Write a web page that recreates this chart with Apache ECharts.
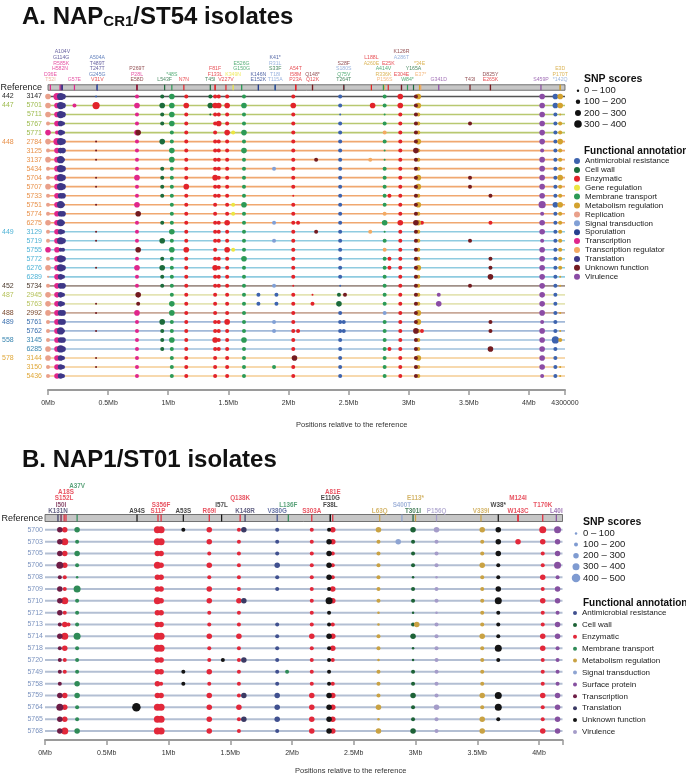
<!DOCTYPE html>
<html><head><meta charset="utf-8">
<script src="https://cdn.jsdelivr.net/npm/echarts@6/dist/echarts.min.js"></script>
<style>html,body{margin:0;padding:0;background:#fff}#c{width:686px;height:776px}</style>
</head><body><div id="c"></div>
<script>
const FONT = '"Liberation Sans", Arial, Helvetica, sans-serif';
const NARROW = '"Liberation Sans Narrow", "Liberation Sans", Arial, sans-serif';

/* ================= Panel A : NAP_CR1 / ST54 ================= */
const rowsA = ['3147','5701','5711','5767','5771','2784','3125','3137','5434','5704','5707','5733','5751','5774','6275',
  '3129','5719','5755','5772','6276','6289','5734','2945','5763','2992','5761','5762','3145','6285','3144','3150','5436'];
const stA = ['442','447','447','447','447','448','448','448','448','448','448','448','448','448','448',
  '449','449','449','449','449','449','452','487','487','488','489','489','558','558','578','578','578'];
const stNames = ['442','447','448','449','452','487','488','489','558','578'];
const stTextColors = ['#2a2a2a','#9dbb4e','#e8914a','#4fb3d6','#4d3b2e','#b6c25c','#7a4a30','#3a6fae','#3a86b0','#e0a83a'];
const stLineColors = ['#555555','#b8c870','#f0a870','#8fcbe0','#a09088','#e4e4b4','#c8a898','#a2b9d8','#9fc0dc','#f4cd93'];

const catsA = ['Antimicrobial resistance','Cell wall','Enzymatic','Gene regulation','Membrane transport','Metabolism regulation',
  'Replication','Signal transduction','Sporulation','Transcription','Transcription regulator','Translation','Unknown function','Virulence'];
const colorsA = ['#3d63ae','#1c6b3b','#e2232a','#ece640','#2c9a56','#d3a22e','#e9a08a','#81a0d6','#263f8f','#e0268c','#f3aa63','#3e3787','#731b20','#8b4ca5'];

// variant columns: position (Mb), annotation, SNP score bin per isolate (0 = absent, 1..4 = 0-100 .. 300-400)
const colPosA = [0.00,0.00,0.075,0.105,0.125,0.22,0.40,0.40,0.40,0.74,0.75,0.95,1.03,1.15,1.35,1.39,1.42,1.49,1.54,1.63,
  1.75,1.88,1.90,1.88,2.04,2.08,2.05,2.20,2.23,2.43,2.46,2.42,2.47,2.70,2.68,2.80,2.80,2.80,2.84,2.93,
  3.06,3.08,3.11,3.25,3.51,3.68,3.68,4.11,4.22,4.26];
const colCatA = ['Replication','Transcription','Transcription','Translation','Translation','Transcription','Enzymatic','Unknown function','Antimicrobial resistance','Transcription',
  'Unknown function','Cell wall','Membrane transport','Enzymatic','Cell wall','Enzymatic','Enzymatic','Enzymatic','Gene regulation','Membrane transport',
  'Antimicrobial resistance','Signal transduction','Antimicrobial resistance','Membrane transport','Enzymatic','Enzymatic','Unknown function','Enzymatic','Unknown function','Antimicrobial resistance',
  'Antimicrobial resistance','Cell wall','Unknown function','Enzymatic','Transcription regulator','Membrane transport','Transcription regulator','Signal transduction','Enzymatic','Enzymatic',
  'Unknown function','Metabolism regulation','Enzymatic','Virulence','Unknown function','Unknown function','Enzymatic','Virulence','Antimicrobial resistance','Metabolism regulation'];
const colSizeA = [
  '3 3320 3232232223 220231 2 33 3 22 23 322',
  '0 0003 0000000000 003000 0 00 0 00 00 000',
  '4 3332 4333333333 333333 3 33 3 33 33 333',
  '4 4433 4344443434 342443 3 33 3 34 34 333',
  '3 3322 3323333232 232332 3 22 3 32 33 222',
  '0 2000 0000000000 000000 0 00 0 00 00 000',
  '0 4000 0000000000 000000 0 00 0 00 00 000',
  '0 0000 1110110100 110010 0 01 1 01 00 110',
  '1 0000 0000000000 000000 0 00 0 00 00 000',
  '2 3223 2222322302 220232 2 00 3 22 22 222',
  '0 0003 0000000030 003000 0 32 0 00 00 000',
  '2 3220 3002222002 030232 2 00 0 32 22 000',
  '3 3332 2332222222 323222 2 23 3 22 32 222',
  '2 3222 2222232222 223222 2 22 2 22 22 222',
  '2 3100 0000000000 000000 0 00 0 00 00 000',
  '2 3222 2222322222 222232 2 22 2 22 32 222',
  '2 3230 2222222002 220222 2 00 0 22 22 000',
  '2 3223 2222222223 223222 2 22 2 32 22 222',
  '0 0002 0000000220 002000 0 00 0 00 00 000',
  '2 3223 2322222322 222322 2 22 2 22 32 222',
  '0 0000 0000000000 000000 0 22 0 00 00 000',
  '0 0000 0002000002 020000 2 00 0 22 00 000',
  '0 0000 0000000000 000000 0 22 0 00 00 000',
  '0 0000 0000000000 000000 0 00 0 00 00 020',
  '2 3222 2222221222 222222 1 22 2 22 22 022',
  '0 0000 0000000002 000000 0 00 0 02 00 000',
  '0 0000 0000000000 000000 0 00 0 00 00 300',
  '0 0000 0000000000 000000 0 12 0 00 00 000',
  '0 0000 0020000000 200000 0 00 0 00 00 000',
  '2 2122 2222222222 222222 1 00 2 22 22 222',
  '0 0000 0000000000 000000 0 00 0 22 00 000',
  '0 0000 0000000000 000000 0 23 0 00 00 000',
  '0 0000 0000000000 000000 0 20 0 00 00 000',
  '0 3000 0000000000 000000 0 00 0 00 00 000',
  '0 0000 0020000000 200000 0 00 0 00 00 000',
  '2 2120 2112222203 120222 2 22 0 22 22 222',
  '0 0002 0000000020 002000 0 00 0 00 00 000',
  '0 0000 0000000000 000000 0 00 2 00 00 000',
  '0 0000 0000002000 000220 0 00 0 00 02 000',
  '3 3222 2222222223 222222 2 22 2 22 22 222',
  '2 2222 2322222223 222222 2 22 2 23 22 222',
  '3 3222 3222332323 222232 2 22 3 32 22 322',
  '0 0000 0000000002 000000 0 00 0 02 00 000',
  '0 0000 0000000000 000000 0 23 0 00 00 000',
  '0 0020 0000220000 020000 2 00 0 00 00 000',
  '0 0000 0000002000 000223 0 00 0 22 03 000',
  '0 0000 0000000002 000000 0 00 0 00 00 000',
  '3 3333 3233333423 323333 3 33 3 23 33 332',
  '3 3222 2222222322 222222 2 22 2 22 42 222',
  '3 3122 3222322322 222221 1 00 1 01 20 011'
];
// mutations on the reference: position (Mb), label, annotation (listed bottom rows first)
const mutA = [
  [0.02,'T52I','Replication'],[0.41,'V31V','Enzymatic'],[0.74,'E58D','Unknown function'],[1.35,'T45I','Cell wall'],
  [1.75,'E152K','Sporulation'],[2.80,'P156S','Transcription regulator'],[2.99,'W84*','Membrane transport'],[3.10,'E37*','Transcription regulator'],
  [3.68,'E265K','Enzymatic'],[4.10,'S459P','Virulence'],
  [0.02,'D36E','Transcription'],[0.41,'G245G','Antimicrobial resistance'],[0.74,'P28L','Transcription'],[1.13,'N7N','Enzymatic'],
  [1.48,'V227V','Enzymatic'],[1.75,'K146N','Sporulation'],[2.06,'P23A','Enzymatic'],[3.04,'Y165A','Cell wall'],[3.51,'T43I','Unknown function'],
  [4.26,'*142Q','Signal transduction'],
  [0.10,'H582N','Transcription'],[0.41,'T247T','Translation'],[0.74,'P269T','Unknown function'],[1.03,'*48S','Membrane transport'],
  [1.39,'F133L','Enzymatic'],[2.06,'I58M','Enzymatic'],[2.46,'T264T','Cell wall'],[2.79,'R336K','Metabolism regulation'],
  [3.09,'*34E','Metabolism regulation'],[3.68,'D825Y','Unknown function'],[4.26,'P170T','Metabolism regulation'],
  [0.11,'R585K','Transcription'],[0.41,'T489T','Translation'],[0.97,'L543F','Cell wall'],[1.39,'F81F','Enzymatic'],
  [2.06,'A54T','Enzymatic'],[2.46,'Q75V','Membrane transport'],[2.79,'A414V','Membrane transport'],[4.26,'E3D','Metabolism regulation'],
  [0.11,'G114G','Translation'],[0.41,'A504A','Antimicrobial resistance'],[1.54,'K349N','Gene regulation'],[1.89,'T115A','Signal transduction'],
  [2.20,'Q12K','Enzymatic'],[2.46,'S180S','Signal transduction'],[2.69,'A260E','Metabolism regulation'],[3.25,'G341D','Virulence'],
  [0.12,'A104V','Translation'],[1.61,'G150G','Membrane transport'],[1.89,'T18I','Signal transduction'],[2.20,'Q148*','Unknown function'],
  [2.46,'S28F','Unknown function'],[2.69,'L188L','Enzymatic'],[2.83,'E25K','Enzymatic'],
  [0.22,'G57E','Transcription'],[1.61,'E526G','Membrane transport'],[1.89,'S33F','Cell wall'],[2.94,'E304E','Enzymatic'],
  [1.89,'R31L','Signal transduction'],[2.94,'A286T','Signal transduction'],
  [1.89,'K41*','Sporulation'],[2.94,'K126R','Unknown function']
];
const scoreBinsA = ['0 \u2013 100','100 \u2013 200','200 \u2013 300','300 \u2013 400'];

/* ================= Panel B : NAP1 / ST01 ================= */
const rowsB = ['5700','5703','5705','5706','5708','5709','5710','5712','5713','5714','5718','5720','5749','5758','5759','5764','5765','5768'];
const catsB = ['Antimicrobial resistance','Cell wall','Enzymatic','Membrane transport','Metabolism regulation','Signal transduction',
  'Surface protein','Transcription','Translation','Unknown function','Virulence'];
const colorsB = ['#40508f','#1d6236','#e2283a','#2f8b57','#c9a243','#8ea4d2','#8650a0','#6d1d46','#3b3a64','#141414','#a59cc9'];
const colPosB = [0.12,0.16,0.19,0.26,0.74,0.91,0.94,1.12,1.33,1.44,1.57,1.61,1.88,1.96,2.16,2.30,2.33,2.70,2.86,2.98,3.01,3.17,3.54,3.67,3.83,4.03,4.15];
const colCatB = ['Transcription','Enzymatic','Enzymatic','Membrane transport','Unknown function','Enzymatic','Enzymatic','Unknown function','Enzymatic',
  'Unknown function','Enzymatic','Translation','Antimicrobial resistance','Membrane transport','Enzymatic','Unknown function','Enzymatic',
  'Metabolism regulation','Signal transduction','Cell wall','Metabolism regulation','Virulence','Metabolism regulation','Unknown function',
  'Enzymatic','Enzymatic','Surface protein'];
const colSizeB = [
  '333423 332322 223433','343322 423432 203334','000000 002000 000000','323214 222422 233223','000000 000000 000500',
  '443433 433443 333444','443333 333443 323444','200000 000000 220000','332323 322322 323333','000000 000002 000000',
  '222222 322322 222322','300000 300003 003030','222322 002222 223332','000000 000000 200000','222222 222322 223333',
  '233332 422322 223333','332223 302332 023333','322222 211221 222313','030000 000000 000000','322212 212311 223223',
  '000000 003000 000000','322212 212222 222322','322322 222322 223233','333223 422242 004420','030000 000000 000000',
  '432232 322332 223223','433423 323322 223333'
];
const mutB = [
  [0.105,'K131N','Translation'],[0.745,'A94S','Unknown function'],[1.33,'R69I','Enzymatic'],[1.88,'V380G','Antimicrobial resistance'],
  [2.16,'S303A','Enzymatic'],[2.71,'L63Q','Metabolism regulation'],[2.98,'T301I','Cell wall'],[3.53,'V339I','Metabolism regulation'],
  [3.83,'W143C','Enzymatic'],[4.14,'L40I','Surface protein'],
  [0.13,'I50I','Transcription'],[0.915,'S11P','Enzymatic'],[1.12,'A53S','Unknown function'],[1.43,'I57L','Unknown function'],
  [1.62,'K148R','Translation'],[1.97,'L136F','Membrane transport'],[2.31,'F38L','Unknown function'],[2.89,'S400T','Signal transduction'],
  [3.17,'P156Q','Virulence'],[3.67,'W38*','Unknown function'],[4.03,'T170K','Enzymatic'],
  [0.155,'S152L','Enzymatic'],[0.94,'S356F','Enzymatic'],[1.58,'Q138K','Enzymatic'],[2.31,'E110G','Unknown function'],
  [3.00,'E113*','Metabolism regulation'],[3.83,'M124I','Enzymatic'],
  [0.17,'A18S','Enzymatic'],[2.33,'A81E','Enzymatic'],
  [0.26,'A37V','Membrane transport']
];
const scoreBinsB = ['0 \u2013 100','100 \u2013 200','200 \u2013 300','300 \u2013 400','400 \u2013 500'];

/* ================= helpers ================= */
const MAXA = 4.3, MAXB = 4.19;
const SIZE_A = [0, 2, 4, 5.6, 7.2];
const SIZE_B = [0, 2.5, 4, 5.5, 7, 8.5];
const ZW = '\u200b';
const clean = s => s.replace(/\s+/g, '');

function buildPoints(rows, pos, cats, sizes, catList) {
  const out = catList.map(() => []);
  pos.forEach((p, j) => {
    const s = clean(sizes[j]);
    const ci = catList.indexOf(cats[j]);
    rows.forEach((id, r) => {
      const code = +(s.charAt(r) || 0);
      if (code > 0 && ci >= 0) out[ci].push([p, id, code]);
    });
  });
  return out;
}
const mctx = document.createElement('canvas').getContext('2d');
function textW(t, font) { mctx.font = font; return mctx.measureText(t).width; }
function stackLevels(muts, pxPerMb, font, gap) {
  const levels = [];
  return muts.map(m => {
    const x = m[0] * pxPerMb, w = textW(m[1], font) + gap;
    const a = x - w / 2, b = x + w / 2;
    let L = 0;
    while (levels[L] && levels[L].some(iv => a < iv[1] && b > iv[0])) L++;
    (levels[L] = levels[L] || []).push([a, b]);
    return L;
  });
}
function rowLines(idx, rows, maxX, colorOf, width) {
  return {
    type: 'custom', xAxisIndex: idx, yAxisIndex: idx, z: 1, silent: true,
    data: rows.map(id => [0, id, maxX]),
    renderItem: (params, api) => {
      const p0 = api.coord([api.value(0), api.value(1)]);
      const p1 = api.coord([api.value(2), api.value(1)]);
      return { type: 'line', shape: { x1: p0[0], y1: p0[1], x2: p1[0], y2: p1[1] },
        style: { stroke: colorOf(params.dataIndex), lineWidth: width } };
    }
  };
}
function refBar(idx, maxX, h) {
  return {
    type: 'custom', xAxisIndex: idx, yAxisIndex: idx, z: 2, silent: true,
    data: [[0, 'Reference', maxX]],
    renderItem: (params, api) => {
      const p0 = api.coord([api.value(0), api.value(1)]);
      const p1 = api.coord([api.value(2), api.value(1)]);
      return { type: 'rect', shape: { x: p0[0], y: p0[1] - h / 2, width: p1[0] - p0[0], height: h },
        style: { fill: '#c6c6c6', stroke: '#555', lineWidth: 0.8 } };
    }
  };
}
function refTicks(idx, muts, catList, colors, h) {
  return {
    type: 'scatter', xAxisIndex: idx, yAxisIndex: idx, z: 4, silent: true, symbol: 'rect', symbolSize: [1.2, h],
    data: muts.map(m => ({ value: [m[0], 'Reference'], itemStyle: { color: colors[catList.indexOf(m[2])], opacity: 1 } }))
  };
}
function mutLabels(idx, muts, catList, colors, pxPerMb, fontSize, fontWeight, family, lh, dist, gap) {
  const font = `${fontWeight} ${fontSize}px ${family}`;
  const lv = stackLevels(muts, pxPerMb, font, gap);
  return {
    type: 'scatter', xAxisIndex: idx, yAxisIndex: idx, z: 5, silent: true, symbolSize: 1,
    itemStyle: { color: 'rgba(0,0,0,0)' },
    data: muts.map((m, k) => ({
      value: [m[0], 'Reference'],
      label: { show: true, position: 'top', distance: dist, offset: [0, -lv[k] * lh], formatter: m[1],
        color: colors[catList.indexOf(m[2])], fontSize: fontSize, fontWeight: fontWeight, fontFamily: family, lineHeight: lh }
    }))
  };
}
function fmtMb(v) {
  const k = Math.round(v / 0.5);
  if (Math.abs(v - k * 0.5) > 1e-6) return '';
  return (+(k * 0.5).toFixed(1)) + 'Mb';
}

/* ================= build ================= */
const ptsA = buildPoints(rowsA, colPosA, colCatA, colSizeA, catsA);
const ptsB = buildPoints(rowsB, colPosB, colCatB, colSizeB, catsB);
const stIdx = st => stNames.indexOf(st);

const richA = { ref: { fontSize: 9, color: '#222', fontFamily: FONT } };
stNames.forEach((st, i) => {
  richA['s' + st] = { fontSize: 7, color: stTextColors[i], width: 22, align: 'left', fontFamily: FONT };
  richA['i' + st] = { fontSize: 7, color: stTextColors[i], width: 18, align: 'right', fontFamily: FONT };
});

const series = [
  rowLines(0, rowsA, MAXA, i => stLineColors[stIdx(stA[i])], 1.6),
  refBar(0, MAXA, 5.5),
  refTicks(0, mutA, catsA, colorsA, 5.5),
  mutLabels(0, mutA, catsA, colorsA, 517 / MAXA, 5.2, 'normal', NARROW, 5.6, 4.3, 1.5),
  ...catsA.map((c, i) => ({
    type: 'scatter', name: c, xAxisIndex: 0, yAxisIndex: 0, z: 3, data: ptsA[i],
    symbolSize: v => SIZE_A[v[2]], itemStyle: { color: colorsA[i], opacity: 1 }
  })),
  rowLines(1, rowsB, MAXB, () => '#b3bfd3', 2),
  refBar(1, MAXB, 7),
  refTicks(1, mutB, catsB, colorsB, 7),
  mutLabels(1, mutB, catsB, colorsB, 517.5 / MAXB, 6.3, 'bold', FONT, 6.3, 3.2, 4),
  ...catsB.map((c, i) => ({
    type: 'scatter', name: c + ZW, xAxisIndex: 1, yAxisIndex: 1, z: 3, data: ptsB[i],
    symbolSize: v => SIZE_B[v[2]], itemStyle: { color: colorsB[i], opacity: 1 }
  }))
];

const graphic = [
  { type: 'text', x: 22, y: 16, style: { text: '{a|A. NAP}{b|CR1}{a|/ST54 isolates}', verticalAlign: 'middle',
    rich: { a: { fontSize: 24, fontWeight: 'bold', fontFamily: FONT, fill: '#111', lineHeight: 26, verticalAlign: 'bottom' },
            b: { fontSize: 15, fontWeight: 'bold', fontFamily: FONT, fill: '#111', lineHeight: 14, verticalAlign: 'bottom' } } } },
  { type: 'text', x: 22, y: 460, style: { text: 'B. NAP1/ST01 isolates', font: `bold 24px ${FONT}`, fill: '#111', verticalAlign: 'middle' } },
  { type: 'text', x: 296, y: 425, style: { text: 'Positions relative to the reference', font: `7.5px ${FONT}`, fill: '#333', verticalAlign: 'middle' } },
  { type: 'text', x: 295, y: 771, style: { text: 'Positions relative to the reference', font: `7.5px ${FONT}`, fill: '#333', verticalAlign: 'middle' } },
  { type: 'text', x: 584, y: 79, style: { text: 'SNP scores', font: `bold 10.5px ${FONT}`, fill: '#111', verticalAlign: 'middle' } },
  { type: 'text', x: 584, y: 151, style: { text: 'Functional annotation', font: `bold 10px ${FONT}`, fill: '#111', verticalAlign: 'middle' } },
  { type: 'text', x: 583, y: 522, style: { text: 'SNP scores', font: `bold 10.5px ${FONT}`, fill: '#111', verticalAlign: 'middle' } },
  { type: 'text', x: 583, y: 603, style: { text: 'Functional annotation', font: `bold 10px ${FONT}`, fill: '#111', verticalAlign: 'middle' } }
];
scoreBinsA.forEach((t, i) => {
  const y = 90.7 + i * 11.1;
  graphic.push({ type: 'circle', shape: { cx: 578, cy: y, r: SIZE_A[i + 1] / 2 + 0.2 }, style: { fill: '#111' } });
  graphic.push({ type: 'text', x: 584, y: y, style: { text: t, font: `9.5px ${FONT}`, fill: '#222', verticalAlign: 'middle' } });
});
scoreBinsB.forEach((t, i) => {
  const y = 533.5 + i * 11.1;
  graphic.push({ type: 'circle', shape: { cx: 576, cy: y, r: SIZE_B[i + 1] / 2 }, style: { fill: '#7f9bd1' } });
  graphic.push({ type: 'text', x: 583, y: y, style: { text: t, font: `9.5px ${FONT}`, fill: '#222', verticalAlign: 'middle' } });
});

const baseX = {
  type: 'value', interval: 0.5, min: 0, splitLine: { show: false },
  axisLine: { show: true, onZero: false, lineStyle: { color: '#9a9a9a', width: 2 } },
  axisTick: { show: true, length: 5, lineStyle: { color: '#9a9a9a', width: 1.5 } }
};
const option = {
  animation: false,
  backgroundColor: '#fff',
  grid: [
    { left: 48, top: 83, width: 517, height: 297.5, outerBoundsMode: 'none', containLabel: false },
    { left: 45, top: 512.1, width: 517.5, height: 224.8, outerBoundsMode: 'none', containLabel: false }
  ],
  xAxis: [
    Object.assign({}, baseX, { gridIndex: 0, max: MAXA, offset: 9.5,
      axisLabel: { fontSize: 7, color: '#333', margin: 10, fontFamily: FONT, showMaxLabel: true, showMinLabel: true,
        formatter: v => Math.abs(v - MAXA) < 1e-6 ? '4300000' : fmtMb(v) } }),
    Object.assign({}, baseX, { gridIndex: 1, max: MAXB, offset: 3,
      axisLabel: { fontSize: 7, color: '#333', margin: 10, fontFamily: FONT, showMaxLabel: true, showMinLabel: true,
        formatter: v => Math.abs(v - MAXB) < 1e-6 ? '' : fmtMb(v) } })
  ],
  yAxis: [
    { gridIndex: 0, type: 'category', inverse: true, data: ['Reference'].concat(rowsA),
      axisLine: { show: false }, axisTick: { show: false }, splitLine: { show: false },
      axisLabel: { interval: 0, margin: 6, rich: richA,
        formatter: (v, i) => {
          if (i === 0) return '{ref|Reference}';
          const r = i - 1, st = stA[r];
          const show = r === 0 || stA[r - 1] !== st;
          return `{s${st}|${show ? st : ''}}{i${st}|${v}}`;
        } } },
    { gridIndex: 1, type: 'category', inverse: true, data: ['Reference'].concat(rowsB),
      axisLine: { show: false }, axisTick: { show: false }, splitLine: { show: false },
      axisLabel: { interval: 0, margin: 2,
        rich: { ref: { fontSize: 9, color: '#222', fontFamily: FONT }, id: { fontSize: 7, color: '#7b93bf', fontFamily: FONT } },
        formatter: (v, i) => i === 0 ? '{ref|Reference}' : `{id|${v}}` } }
  ],
  legend: [
    { data: catsA, orient: 'vertical', left: 574, top: 157, padding: 0, icon: 'circle', itemWidth: 6, itemHeight: 6,
      itemGap: 0.9, selectedMode: false, textStyle: { fontSize: 8, lineHeight: 8, color: '#222', fontFamily: FONT } },
    { data: catsB.map(c => c + ZW), orient: 'vertical', left: 573, top: 609, padding: 0, icon: 'circle', itemWidth: 4, itemHeight: 4,
      itemGap: 3.9, selectedMode: false, formatter: n => n.replace(ZW, ''),
      textStyle: { fontSize: 8, lineHeight: 8, color: '#222', fontFamily: FONT } }
  ],
  graphic: graphic,
  series: series
};

const chart = echarts.init(document.getElementById('c'), null, { renderer: 'canvas', width: 686, height: 776 });
chart.setOption(option);
</script>
</body></html>
